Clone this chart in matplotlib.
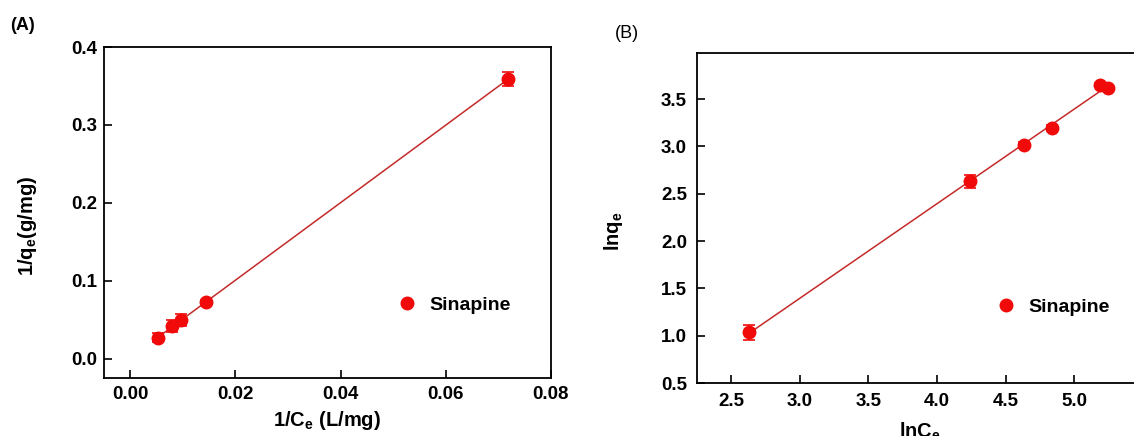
import numpy as np
import matplotlib
matplotlib.use("Agg")
import matplotlib.pyplot as plt
from matplotlib.lines import Line2D

plt.rcParams['font.family'] = ['Liberation Sans', 'DejaVu Sans']
plt.rcParams['font.weight'] = 'bold'
plt.rcParams['mathtext.default'] = 'regular'

# Panel A: Langmuir linear form
inv_ce = [0.00528, 0.00789, 0.00965, 0.01444, 0.0718]
inv_qe = [0.0266, 0.0415, 0.0493, 0.0724, 0.3585]
inv_qe_err = [0.006, 0.0075, 0.008, 0.003, 0.009]

# Panel B: Freundlich linear form
ln_ce = [2.634, 4.237, 4.633, 4.836, 5.188, 5.247]
ln_qe = [1.035, 2.633, 3.015, 3.195, 3.647, 3.619]
ln_qe_err = [0.077, 0.07, 0.03, 0.03, 0.02, 0.02]

series_name = "Sinapine"
a_xticks = [0.00, 0.02, 0.04, 0.06, 0.08]
a_yticks = [0.0, 0.1, 0.2, 0.3, 0.4]
b_xticks = [2.5, 3.0, 3.5, 4.0, 4.5, 5.0]
b_yticks = [0.5, 1.0, 1.5, 2.0, 2.5, 3.0, 3.5]

W, H = 1134, 436
fig = plt.figure(figsize=(W / 100, H / 100), dpi=100)

mcol = '#F00A0A'
lcol = '#C42A2A'
fs = 13.5
lfs = 14.5


def px_axes(l, t, r, b):
    return fig.add_axes([l / W, 1 - b / H, (r - l) / W, (b - t) / H])


def style(ax):
    for s in ax.spines.values():
        s.set_linewidth(1.3)
    ax.tick_params(direction='in', length=6, width=1.2, labelsize=fs)
    for lab in ax.get_xticklabels() + ax.get_yticklabels():
        lab.set_fontweight('bold')


def panel(ax, x, y, e):
    x = np.asarray(x)
    y = np.asarray(y)
    k, b0 = np.polyfit(x, y, 1)
    xl = np.array([x.min(), x.max()])
    ax.plot(xl, k * xl + b0, color=lcol, lw=1.1, zorder=2)
    ax.errorbar(x, y, yerr=e, fmt='o', color=mcol, ms=9, ecolor=mcol,
                elinewidth=1.2, capsize=4, capthick=1.2, zorder=3)


# ---- Panel A ----
axA = px_axes(104, 47, 551, 378)
panel(axA, inv_ce, inv_qe, inv_qe_err)
axA.set_xlim(-0.005, 0.08)
axA.set_ylim(-0.025, 0.4)
axA.set_xticks(a_xticks)
axA.set_yticks(a_yticks)
axA.set_xticklabels([f"{v:.2f}" for v in a_xticks])
axA.set_yticklabels([f"{v:.1f}" for v in a_yticks])
style(axA)
axA.tick_params(axis='x', pad=6)
axA.tick_params(axis='y', pad=5)
axA.set_xlabel(r"1/C$_\mathregular{e}$ (L/mg)", fontsize=lfs, fontweight='bold')
axA.set_ylabel(r"1/q$_\mathregular{e}$(g/mg)", fontsize=lfs, fontweight='bold')
axA.xaxis.set_label_coords(0.5, -0.094)
axA.yaxis.set_label_coords(-0.145, 0.46)
axA.xaxis.label.set_va('top')
axA.yaxis.label.set_va('bottom')
h = Line2D([], [], marker='o', ls='none', color=mcol, ms=9)
axA.legend([h], [series_name], loc='center left', bbox_to_anchor=(0.657, 0.2205),
           frameon=False, borderpad=0, borderaxespad=0, handlelength=1.0,
           handletextpad=0.62, prop={'size': 14, 'weight': 'bold'})
fig.text(10 / W, 1 - 26 / H, "(A)", fontsize=13, fontweight='bold', va='center', ha='left')

# ---- Panel B ----
axB = px_axes(696.7, 52.7, 1143, 383)
panel(axB, ln_ce, ln_qe, ln_qe_err)
axB.set_xlim(2.25, 5.5)
axB.set_ylim(0.5, 3.99)
axB.set_xticks(b_xticks)
axB.set_yticks(b_yticks)
axB.set_xticklabels([f"{v:.1f}" for v in b_xticks])
axB.set_yticklabels([f"{v:.1f}" for v in b_yticks])
style(axB)
axB.tick_params(axis='x', pad=7)
axB.tick_params(axis='y', pad=7)
axB.set_xlabel(r"lnC$_\mathregular{e}$", fontsize=lfs, fontweight='bold')
axB.set_ylabel(r"lnq$_\mathregular{e}$", fontsize=lfs, fontweight='bold')
axB.xaxis.set_label_coords(0.5, -0.115)
axB.yaxis.set_label_coords(-0.16, 0.46)
axB.xaxis.label.set_va('top')
axB.yaxis.label.set_va('bottom')
h2 = Line2D([], [], marker='o', ls='none', color=mcol, ms=9)
axB.legend([h2], [series_name], loc='center left', bbox_to_anchor=(0.672, 0.230),
           frameon=False, borderpad=0, borderaxespad=0, handlelength=1.0,
           handletextpad=0.62, prop={'size': 14, 'weight': 'bold'})
fig.text(615 / W, 1 - 34 / H, "(B)", fontsize=13, fontweight='normal', va='center', ha='left')

fig.savefig("out.png", dpi=100)
